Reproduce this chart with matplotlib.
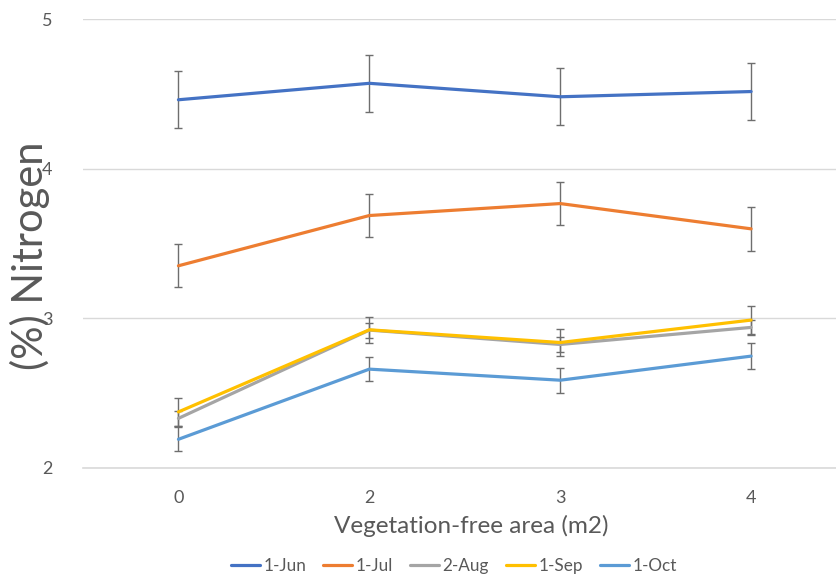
import matplotlib.pyplot as plt

# =========================
# Data
# =========================

areas = ["0", "2", "3", "4"]
dates = ["1-Jun", "1-Jul", "2-Aug", "1-Sep", "1-Oct"]

jun = [4.46, 4.57, 4.48, 4.515]
jul = [3.35, 3.686, 3.766, 3.597]
aug = [2.33, 2.92, 2.824, 2.938]
sep = [2.373, 2.922, 2.837, 2.987]
oct_ = [2.19, 2.659, 2.585, 2.746]

jun_err = [0.19, 0.19, 0.19, 0.19]
jul_err = [0.145, 0.146, 0.144, 0.145]
aug_err = [0.05, 0.05, 0.05, 0.05]
sep_err = [0.092, 0.088, 0.092, 0.092]
oct_err = [0.08, 0.082, 0.083, 0.085]

series = [jun, jul, aug, sep, oct_]
errors = [jun_err, jul_err, aug_err, sep_err, oct_err]
colors = ["#4472C4", "#ED7D31", "#A5A5A5", "#FFC000", "#5B9BD5"]

text_color = "#595959"
grid_color = "#D9D9D9"

plt.rcParams["font.family"] = ["Lato", "DejaVu Sans"]

# =========================
# Plot
# =========================

fig = plt.figure(figsize=(8.37, 5.78), dpi=100)
ax = fig.add_axes([83 / 837, 110.3 / 578, 1 - 83 / 837, (467.7 - 19) / 578])

x = range(len(areas))

for vals, errs, color, label in zip(series, errors, colors, dates):
    ax.errorbar(x, vals, yerr=errs, fmt="none", ecolor="#6E6E6E",
                elinewidth=1.0, capsize=3, capthick=1.0, zorder=2)
    ax.plot(x, vals, color=color, linewidth=2.3, label=label, zorder=3,
            solid_capstyle="round")

ax.set_xlim(-0.5, 3.45)
ax.set_ylim(2, 5)
ax.set_yticks([2, 3, 4, 5])
ax.set_xticks(list(x))
ax.set_xticklabels(areas)

ax.grid(axis="y", color=grid_color, linewidth=1.0, zorder=0)
for side in ["top", "right", "left"]:
    ax.spines[side].set_visible(False)
ax.spines["bottom"].set_color(grid_color)
ax.spines["bottom"].set_linewidth(1.2)

ax.tick_params(axis="both", length=0, labelsize=13, labelcolor=text_color)
ax.tick_params(axis="y", pad=22)
ax.tick_params(axis="x", pad=16)

# axis titles placed by hand, the y one overlaps the tick labels like the original
fig.text(471 / 837, 1 - 526 / 578, "Vegetation-free area (m2)",
         ha="center", va="center", fontsize=17.5, color=text_color)
fig.text(30 / 837, 1 - 256 / 578, "(%) Nitrogen", rotation=90,
         ha="center", va="center", fontsize=30, color=text_color)

fig.legend(loc="center", bbox_to_anchor=(454 / 837, 1 - 566 / 578),
           ncol=5, frameon=False, fontsize=12.3, handlelength=1.7,
           handletextpad=0.2, columnspacing=1.0, labelcolor=text_color)

fig.savefig("out.png", dpi=100)
